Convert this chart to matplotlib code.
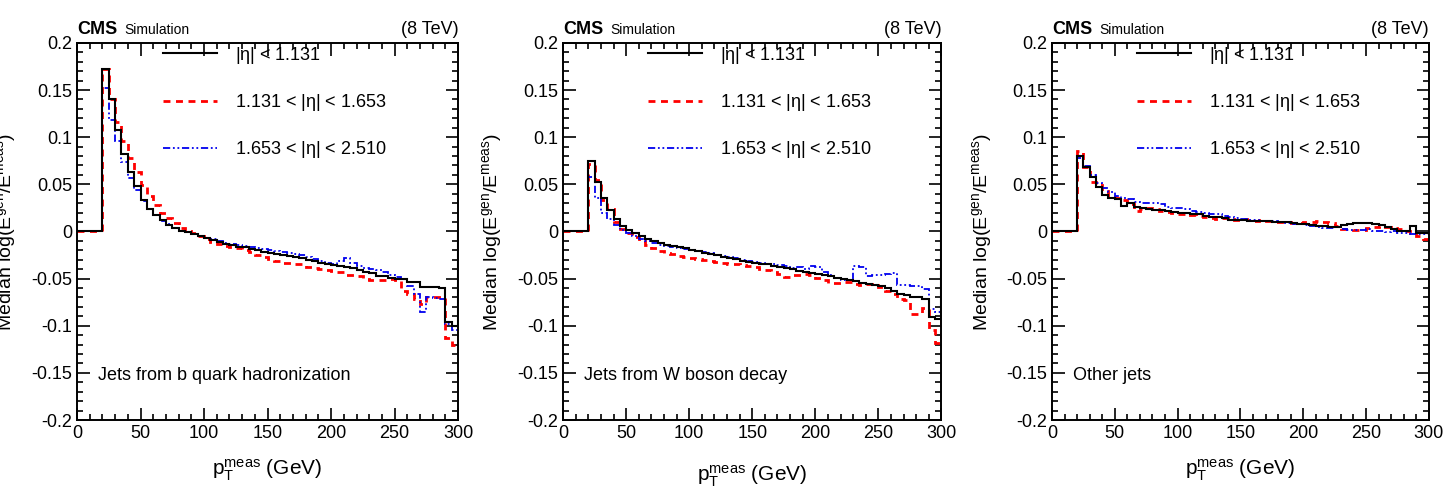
import numpy as np
import matplotlib
matplotlib.use("Agg")
import matplotlib.pyplot as plt
from matplotlib.ticker import MultipleLocator

plt.rcParams['font.family'] = ['Liberation Sans', 'DejaVu Sans']
plt.rcParams['mathtext.default'] = 'regular'

# bin edges in GeV: first bin 0-20 is empty, then 5 GeV bins up to 300
pt_edges = [0, 20, 25, 30, 35, 40, 45, 50, 55, 60, 65, 70, 75, 80, 85, 90, 95,
            100, 105, 110, 115, 120, 125, 130, 135, 140, 145, 150, 155, 160, 165,
            170, 175, 180, 185, 190, 195, 200, 205, 210, 215, 220, 225, 230, 235,
            240, 245, 250, 255, 260, 265, 270, 275, 280, 285, 290, 295, 300]

eta_labels = [r"|$\eta$| < 1.131", r"1.131 < |$\eta$| < 1.653", r"1.653 < |$\eta$| < 2.510"]
panel_texts = ["Jets from b quark hadronization", "Jets from W boson decay", "Other jets"]

# b jets
b_eta1 = [0.0,
          0.172, 0.140, 0.108, 0.082, 0.063, 0.048, 0.033, 0.024, 0.017, 0.012,
          0.007, 0.004, 0.001, -0.001, -0.003, -0.005, -0.007, -0.009, -0.011, -0.013,
          -0.014, -0.016, -0.017, -0.019, -0.020, -0.022, -0.023, -0.024, -0.025, -0.026,
          -0.027, -0.028, -0.030, -0.031, -0.033, -0.035, -0.036, -0.037, -0.038, -0.039,
          -0.041, -0.043, -0.044, -0.047, -0.047, -0.049, -0.050, -0.050, -0.054, -0.054,
          -0.059, -0.059, -0.059, -0.060, -0.096, -0.100]
b_eta2 = [0.0,
          0.172, 0.141, 0.116, 0.096, 0.078, 0.063, 0.049, 0.038, 0.028, 0.020,
          0.014, 0.009, 0.004, 0.001, -0.002, -0.005, -0.008, -0.011, -0.013, -0.015,
          -0.017, -0.018, -0.020, -0.022, -0.025, -0.027, -0.029, -0.031, -0.033, -0.033,
          -0.034, -0.035, -0.038, -0.039, -0.040, -0.041, -0.042, -0.043, -0.046, -0.046,
          -0.047, -0.050, -0.051, -0.051, -0.051, -0.050, -0.052, -0.063, -0.066, -0.072,
          -0.077, -0.069, -0.069, -0.070, -0.113, -0.120]
b_eta3 = [0.0,
          0.152, 0.118, 0.096, 0.074, 0.057, 0.044, 0.032, 0.024, 0.017, 0.011,
          0.008, 0.004, 0.001, -0.001, -0.003, -0.005, -0.007, -0.008, -0.010, -0.012,
          -0.013, -0.014, -0.015, -0.016, -0.018, -0.019, -0.020, -0.021, -0.022, -0.023,
          -0.024, -0.025, -0.027, -0.029, -0.031, -0.033, -0.034, -0.031, -0.028, -0.033,
          -0.037, -0.039, -0.040, -0.041, -0.043, -0.046, -0.048, -0.050, -0.058, -0.066,
          -0.085, -0.070, -0.071, -0.072, -0.098, -0.105]

# W jets
w_eta1 = [0.0,
          0.075, 0.052, 0.035, 0.023, 0.013, 0.006, 0.002, -0.002, -0.005, -0.008,
          -0.010, -0.012, -0.014, -0.015, -0.017, -0.018, -0.020, -0.021, -0.023, -0.024,
          -0.025, -0.027, -0.028, -0.029, -0.031, -0.032, -0.033, -0.034, -0.035, -0.037,
          -0.038, -0.039, -0.040, -0.042, -0.043, -0.044, -0.045, -0.046, -0.047, -0.049,
          -0.050, -0.052, -0.053, -0.055, -0.056, -0.057, -0.058, -0.060, -0.063, -0.066,
          -0.067, -0.069, -0.070, -0.072, -0.091, -0.093]
w_eta2 = [0.0,
          0.072, 0.055, 0.033, 0.024, 0.010, 0.003, -0.002, -0.006, -0.010, -0.014,
          -0.018, -0.021, -0.023, -0.024, -0.026, -0.027, -0.028, -0.029, -0.030, -0.031,
          -0.032, -0.033, -0.034, -0.035, -0.036, -0.037, -0.038, -0.040, -0.041, -0.043,
          -0.045, -0.048, -0.046, -0.046, -0.045, -0.046, -0.049, -0.052, -0.055, -0.055,
          -0.054, -0.054, -0.056, -0.057, -0.056, -0.057, -0.059, -0.063, -0.066, -0.072,
          -0.073, -0.088, -0.088, -0.081, -0.105, -0.118]
w_eta3 = [0.0,
          0.058, 0.036, 0.020, 0.013, 0.007, 0.002, -0.002, -0.005, -0.008, -0.010,
          -0.012, -0.014, -0.015, -0.016, -0.018, -0.019, -0.020, -0.021, -0.022, -0.023,
          -0.025, -0.026, -0.027, -0.028, -0.030, -0.031, -0.032, -0.033, -0.034, -0.035,
          -0.036, -0.037, -0.039, -0.038, -0.040, -0.037, -0.038, -0.043, -0.046, -0.049,
          -0.051, -0.052, -0.037, -0.038, -0.047, -0.046, -0.046, -0.045, -0.044, -0.057,
          -0.057, -0.058, -0.058, -0.061, -0.082, -0.085]

# other jets
o_eta1 = [0.0,
          0.080, 0.068, 0.058, 0.047, 0.039, 0.036, 0.034, 0.027, 0.030, 0.026,
          0.025, 0.024, 0.023, 0.023, 0.022, 0.021, 0.020, 0.020, 0.019, 0.018,
          0.016, 0.015, 0.015, 0.014, 0.012, 0.012, 0.012, 0.011, 0.011, 0.011,
          0.011, 0.010, 0.010, 0.010, 0.009, 0.008, 0.008, 0.007, 0.006, 0.006,
          0.005, 0.005, 0.007, 0.008, 0.009, 0.009, 0.009, 0.008, 0.007, 0.005,
          0.003, 0.001, 0.000, 0.006, -0.002, -0.002]
o_eta2 = [0.0,
          0.085, 0.068, 0.052, 0.049, 0.043, 0.037, 0.036, 0.033, 0.029, 0.022,
          0.024, 0.025, 0.024, 0.022, 0.021, 0.020, 0.019, 0.018, 0.017, 0.016,
          0.015, 0.014, 0.013, 0.014, 0.013, 0.012, 0.013, 0.012, 0.011, 0.012,
          0.011, 0.010, 0.010, 0.010, 0.009, 0.009, 0.010, 0.010, 0.011, 0.010,
          0.009, 0.006, 0.003, 0.003, 0.002, 0.002, 0.004, 0.005, 0.006, 0.005,
          0.004, 0.003, 0.001, -0.002, -0.005, -0.008]
o_eta3 = [0.0,
          0.078, 0.069, 0.060, 0.051, 0.046, 0.042, 0.038, 0.035, 0.034, 0.031,
          0.030, 0.030, 0.030, 0.029, 0.026, 0.025, 0.025, 0.024, 0.022, 0.021,
          0.020, 0.019, 0.018, 0.016, 0.015, 0.014, 0.013, 0.012, 0.012, 0.011,
          0.011, 0.011, 0.010, 0.009, 0.008, 0.008, 0.007, 0.006, 0.005, 0.004,
          0.004, 0.005, 0.003, 0.002, 0.002, 0.002, 0.003, 0.001, 0.000, -0.001,
          0.000, -0.002, -0.002, -0.003, -0.003, -0.003]

panels = [(b_eta1, b_eta2, b_eta3), (w_eta1, w_eta2, w_eta3), (o_eta1, o_eta2, o_eta3)]

fig = plt.figure(figsize=(14.55, 4.91), dpi=100)
lefts = [0.0529, 0.387, 0.723]
widths = [0.262, 0.260, 0.259]

for k in range(3):
    ax = fig.add_axes([lefts[k], 0.1446, widths[k], 0.768])
    s1, s2, s3 = panels[k]
    # draw black last so it sits on top like in the original
    h2 = ax.stairs(s2, pt_edges, color='#ff0000', linewidth=2, linestyle=(0, (2.5, 2)), zorder=2)
    h3 = ax.stairs(s3, pt_edges, color='#0000ee', linewidth=1.3,
                   linestyle=(0, (4, 1.5, 1, 1.5, 1, 1.5)), zorder=2)
    h1 = ax.stairs(s1, pt_edges, color='black', linewidth=1.5, zorder=3)

    ax.set_xlim(0, 300)
    ax.set_ylim(-0.2, 0.2)
    ax.xaxis.set_major_locator(MultipleLocator(50))
    ax.xaxis.set_minor_locator(MultipleLocator(10))
    ax.yaxis.set_minor_locator(MultipleLocator(0.01))
    ax.set_yticks([0.2, 0.15, 0.1, 0.05, 0, -0.05, -0.1, -0.15, -0.2])
    ax.set_yticklabels(["0.2", "0.15", "0.1", "0.05", "0", "-0.05", "-0.1", "-0.15", "-0.2"])
    ax.tick_params(which='both', direction='in', top=True, right=True, labelsize=13, width=1.2)
    ax.tick_params(which='major', length=9)
    ax.tick_params(which='minor', length=4.5)
    for sp in ax.spines.values():
        sp.set_linewidth(1.4)

    ax.set_ylabel(r"Median log(E$^{gen}$/E$^{meas}$)", fontsize=14)
    ax.yaxis.set_label_coords(-0.155, 0.5)
    ax.set_xlabel(r"p$_T^{meas}$ (GeV)", fontsize=15)
    if k == 1:
        ax.xaxis.set_label_coords(0.5, -0.115)
    else:
        ax.xaxis.set_label_coords(0.5, -0.10)

    ax.legend([h1, h2, h3], eta_labels, loc='upper left', bbox_to_anchor=(0.225, 0.995),
              frameon=False, fontsize=13, handlelength=3.0, handletextpad=1.0,
              labelspacing=1.45, borderpad=0, borderaxespad=0)

    ax.text(0.055, 0.117, panel_texts[k], transform=ax.transAxes, fontsize=13, va='center')

    ax.text(0.0, 1.012, "CMS", transform=ax.transAxes, fontsize=13, fontweight='bold', va='bottom')
    ax.text(0.125, 1.017, "Simulation", transform=ax.transAxes, fontsize=10, va='bottom')
    ax.text(1.0, 1.012, "(8 TeV)", transform=ax.transAxes, fontsize=13, ha='right', va='bottom')

plt.savefig("out.png", dpi=100)
